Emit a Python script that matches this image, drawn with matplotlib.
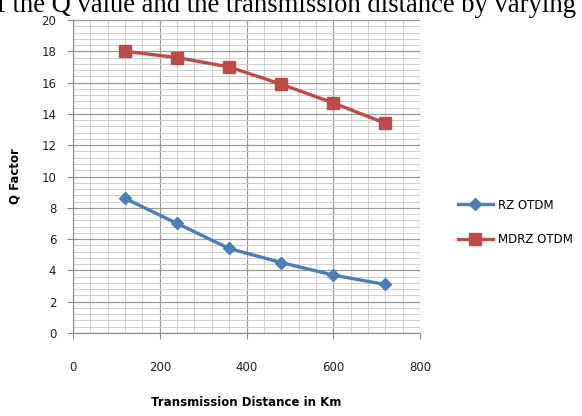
import matplotlib
matplotlib.use("Agg")
import matplotlib.pyplot as plt
import numpy as np

distance = [120, 240, 360, 480, 600, 720]
rz_otdm = [8.6, 7.0, 5.4, 4.5, 3.7, 3.1]
mdrz_otdm = [18.0, 17.6, 17.0, 15.9, 14.7, 13.4]
x_ticks = [0, 200, 400, 600, 800]
y_ticks = [0, 2, 4, 6, 8, 10, 12, 14, 16, 18, 20]

W, H = 582, 416
fig = plt.figure(figsize=(W / 100, H / 100), dpi=100)
ax = fig.add_axes([73 / W, 1 - 333 / H, (420 - 73) / W, (333 - 20) / H])

ax.set_xlim(0, 800)
ax.set_ylim(0, 20)
ax.set_xticks(x_ticks)
ax.set_yticks(y_ticks)
ax.set_xticks(np.arange(0, 801, 40), minor=True)
ax.set_yticks(np.arange(0, 20.01, 0.4), minor=True)
ax.grid(which='major', color='#9a9a9a', linewidth=0.9)
ax.grid(which='minor', color='#cfcfcf', linewidth=0.7)
ax.set_axisbelow(True)
ax.tick_params(which='minor', length=0)
ax.tick_params(which='major', length=4, color='#888888', labelsize=8.5,
               labelcolor='#222222', pad=8)
ax.tick_params(axis='x', pad=16)
for s in ['top', 'right']:
    ax.spines[s].set_visible(False)
for s in ['left', 'bottom']:
    ax.spines[s].set_color('#888888')

ax.plot(distance, rz_otdm, color='#4a7ebb', lw=2.4, marker='D', ms=6.5,
        mec='#4a7ebb', label='RZ OTDM')
ax.plot(distance, mdrz_otdm, color='#be4b48', lw=2.4, marker='s', ms=8.5,
        mec='#be4b48', label='MDRZ OTDM')

ax.set_xlabel('Transmission Distance in Km', fontsize=8.5, fontweight='bold', labelpad=16)
ax.set_ylabel('Q Factor', fontsize=8.5, fontweight='bold', labelpad=14)

leg = fig.legend(loc='upper left', bbox_to_anchor=(447 / W, 1 - 188 / H),
                 frameon=False, fontsize=8.5, labelspacing=1.8, handlelength=3.0,
                 handletextpad=0.4)

fig.text(-0.005, 1 - 12 / H, 'f the Q value and the transmission distance by varying',
         family='Liberation Serif', fontsize=19.2, va='baseline', ha='left')

fig.savefig('out.png', dpi=100)
